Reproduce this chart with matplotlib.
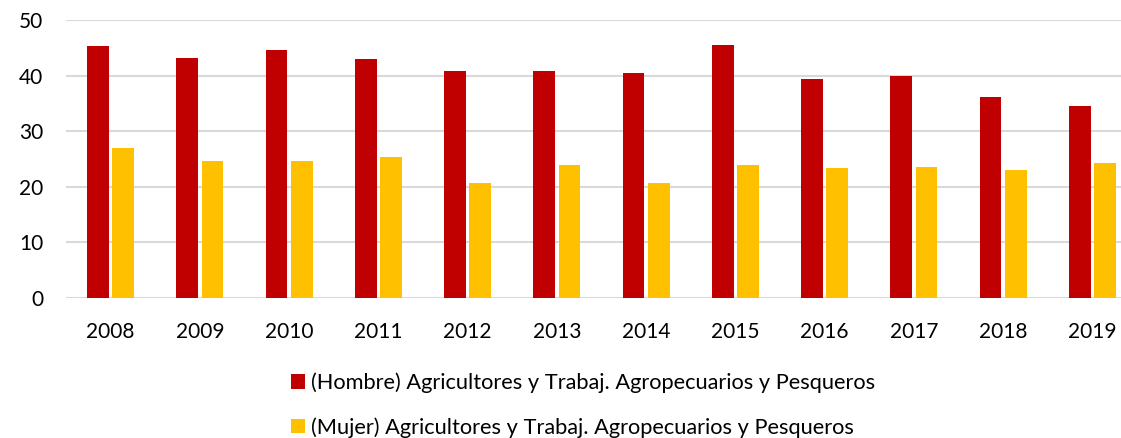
import matplotlib
matplotlib.use("Agg")
import matplotlib.pyplot as plt
import numpy as np

years = ["2008", "2009", "2010", "2011", "2012", "2013", "2014", "2015", "2016", "2017", "2018", "2019"]
hombre = [45.3, 43.2, 44.6, 43.0, 40.8, 40.9, 40.4, 45.5, 39.4, 40.0, 36.1, 34.5]
mujer = [26.9, 24.6, 24.6, 25.4, 20.7, 24.0, 20.7, 24.0, 23.4, 23.6, 23.0, 24.3]
label_h = "(Hombre) Agricultores y Trabaj. Agropecuarios y Pesqueros"
label_m = "(Mujer) Agricultores y Trabaj. Agropecuarios y Pesqueros"

plt.rcParams['font.family'] = ['Lato', 'DejaVu Sans']

W, H = 1121, 438
fig = plt.figure(figsize=(W/100, H/100), dpi=100)
ax = fig.add_axes([66/W, 1-298/H, 1071/W, (298-20)/H])

x = np.arange(len(years))
w = 0.246
gap = 0.037
ax.bar(x - w/2 - gap/2, hombre, width=w, color="#C00000", label=label_h, zorder=3)
ax.bar(x + w/2 + gap/2, mujer, width=w, color="#FFC000", label=label_m, zorder=3)

ax.set_xlim(-0.5, len(years) - 0.5)
ax.set_ylim(0, 50)
ax.set_yticks([0, 10, 20, 30, 40, 50])
ax.set_xticks(x)
ax.set_xticklabels(years)
ax.yaxis.grid(True, color="#D9D9D9", linewidth=1.5, zorder=0)
ax.set_axisbelow(True)
for s in ax.spines.values():
    s.set_visible(False)
ax.tick_params(axis='both', length=0, labelsize=15, colors="#000000")
ax.tick_params(axis='y', pad=16.5)
ax.tick_params(axis='x', pad=17)

fig.legend(loc='center left', bbox_to_anchor=(291/W, 1-405/H), ncol=1,
           frameon=False, fontsize=15.7, handlelength=0.64, handleheight=0.64,
           handletextpad=0.28, labelspacing=1.1, borderpad=0, borderaxespad=0)

fig.savefig("out.png", dpi=100)
